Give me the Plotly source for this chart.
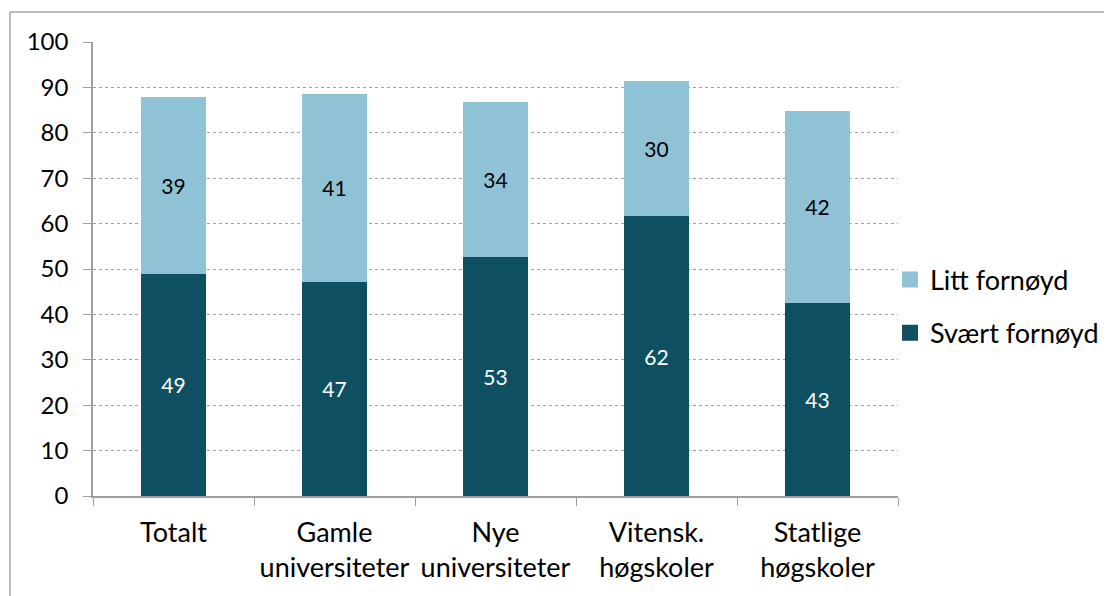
import plotly.graph_objects as go

# Data
categories = ['Totalt', 'Gamle<br>universiteter', 'Nye<br>universiteter',
              'Vitensk.<br>høgskoler', 'Statlige<br>høgskoler']
svaert_fornoyd = [48.9, 47.2, 52.6, 61.6, 42.6]
litt_fornoyd = [38.9, 41.4, 34.2, 29.8, 42.3]

DARK = '#0E5061'
LIGHT = '#90C2D5'

# page has an 8px body margin, so everything is shifted by 8px
W, H = 1112, 596
L, R, T, B = 85, 222, 34, 108
font = 'Lato, "Open Sans", sans-serif'

fig = go.Figure()

fig.add_trace(go.Bar(
    x=categories, y=svaert_fornoyd, name='Svært fornøyd', showlegend=False,
    marker=dict(color=DARK, line=dict(width=0)),
    text=[f'{v:.0f}' for v in svaert_fornoyd], textposition='inside',
    insidetextanchor='middle', textfont=dict(color='white', size=21, family=font),
))
fig.add_trace(go.Bar(
    x=categories, y=litt_fornoyd, name='Litt fornøyd', showlegend=False,
    marker=dict(color=LIGHT, line=dict(width=0)),
    text=[f'{v:.0f}' for v in litt_fornoyd], textposition='inside',
    insidetextanchor='middle', textfont=dict(color='black', size=21, family=font),
))

# legend-only entries with bigger square swatches
for name, col, grp in [('Litt fornøyd', LIGHT, 'a'), ('Svært fornøyd', DARK, 'b')]:
    fig.add_trace(go.Scatter(
        x=[None], y=[None], mode='markers', name=name, legendgroup=grp,
        marker=dict(symbol='square', size=17, color=col),
    ))

# outer chart border (only top and left visible in the frame)
pw, ph = W - L - R, H - T - B
bx0 = (2 - L) / pw
by1 = (H - B - 4) / ph
fig.add_shape(type='line', xref='paper', yref='paper', x0=bx0, x1=1.5, y0=by1, y1=by1,
              line=dict(color='#A6A6A6', width=1.5))
fig.add_shape(type='line', xref='paper', yref='paper', x0=bx0, x1=bx0, y0=-0.5, y1=by1,
              line=dict(color='#A6A6A6', width=1.5))

fig.update_layout(
    width=W, height=H,
    barmode='stack', bargap=0.6,
    plot_bgcolor='white', paper_bgcolor='white',
    margin=dict(l=L, r=R, t=T, b=B, autoexpand=False),
    font=dict(family=font, size=22, color='black'),
    legend=dict(xref='container', yref='container', x=882 / W, y=1 - 298.5 / H,
                xanchor='left', yanchor='middle', bgcolor='rgba(0,0,0,0)',
                font=dict(size=27), itemwidth=30, tracegroupgap=15),
    showlegend=True,
)
fig.update_xaxes(
    showline=True, linecolor='#A0A0A0', linewidth=1.5,
    ticks='outside', tickson='boundaries', ticklen=8, tickcolor='#A0A0A0',
    tickfont=dict(size=27), ticklabelstandoff=12,
)
fig.update_yaxes(
    range=[0, 100], dtick=10,
    showline=True, linecolor='#A0A0A0', linewidth=1.5,
    ticks='outside', ticklen=8, tickcolor='#A0A0A0',
    showgrid=True, gridcolor='#A0A0A0', griddash='dot', gridwidth=1,
    zeroline=False, tickfont=dict(size=24), ticklabelstandoff=10,
)

fig.write_html('out.html')
